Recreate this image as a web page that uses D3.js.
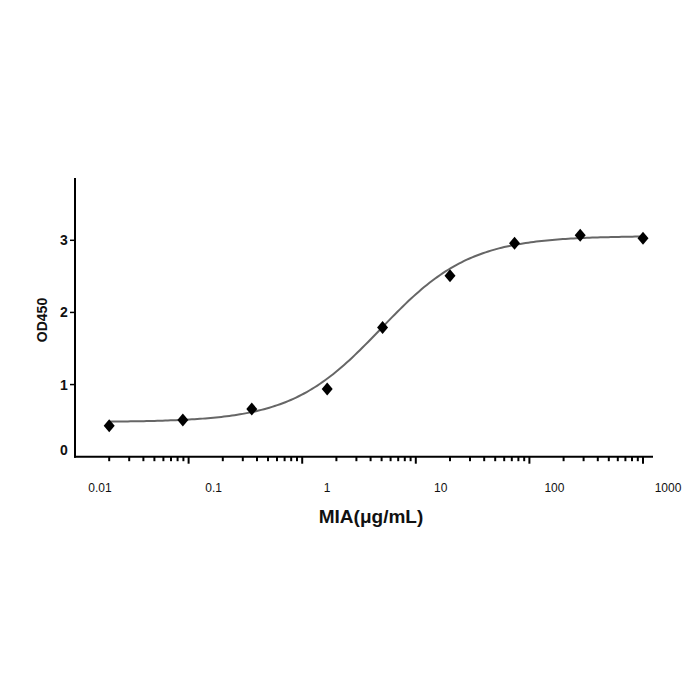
<!DOCTYPE html>
<html>
<head>
<meta charset="utf-8">
<script src="https://cdn.jsdelivr.net/npm/d3@7"></script>
<style>
    body { margin: 0; background: #fff; }
    svg text { font-family: "Liberation Sans", Arial, sans-serif; }
</style>
</head>
<body>
<svg id="chart" width="700" height="700"></svg>
<script>
// concentration (ug/mL) and OD450
var conc = [0.02, 0.089, 0.36, 1.66, 5.1, 20, 74, 280, 1000];
var od = [0.43, 0.51, 0.66, 0.94, 1.79, 2.51, 2.96, 3.07, 3.03];

// 4PL fit shown as the grey line
var fitBottom = 0.48;
var fitTop = 3.06;
var fitEC50 = 4.9;
var fitHill = 1.1;

var xTickLabels = ["0.01", "0.1", "1", "10", "100", "1000"];
var yTicks = [0, 1, 2, 3];

var svg = d3.select("#chart");

var x = d3.scaleLog().domain([0.01, 1000]).range([75, 643]);
var y = d3.scaleLinear().domain([0, 3]).range([456.7, 240.3]);
var yTop = 178;
var xEnd = 653;

// axes lines
svg.append("line")
    .attr("x1", 75).attr("y1", yTop).attr("x2", 75).attr("y2", y(0) + 1)
    .attr("stroke", "#000").attr("stroke-width", 2);
svg.append("line")
    .attr("x1", 74).attr("y1", y(0)).attr("x2", xEnd).attr("y2", y(0))
    .attr("stroke", "#000").attr("stroke-width", 2);

// y ticks
for (var i in yTicks) {
    var v = yTicks[i];
    if (v > 0) {
        svg.append("line")
            .attr("x1", 70).attr("x2", 75)
            .attr("y1", y(v)).attr("y2", y(v))
            .attr("stroke", "#000").attr("stroke-width", 1.5);
    }
    svg.append("text")
        .attr("x", 64).attr("y", v > 0 ? y(v) + 5 : y(v) - 2)
        .attr("text-anchor", "middle")
        .attr("font-size", 14).attr("font-weight", "bold")
        .attr("fill", "#111")
        .text(v);
}

// x ticks: minor 2..9 per decade, major at each decade
for (var d = -2; d < 3; d++) {
    for (var m = 2; m <= 10; m++) {
        var tv = m * Math.pow(10, d);
        var major = (m == 10);
        svg.append("line")
            .attr("x1", x(tv)).attr("x2", x(tv))
            .attr("y1", y(0)).attr("y2", y(0) + (major ? 7 : 4.5))
            .attr("stroke", "#000").attr("stroke-width", 2);
    }
}

// x tick labels (sit a bit right of their ticks, like the original)
for (var k in xTickLabels) {
    svg.append("text")
        .attr("x", x(+xTickLabels[k]) + 25).attr("y", 492)
        .attr("text-anchor", "middle")
        .attr("font-size", 12)
        .attr("fill", "#111")
        .text(xTickLabels[k]);
}

// fitted curve
var lx = d3.range(0, 201).map(function (i) {
    return Math.pow(10, Math.log10(conc[0]) + i / 200 * (Math.log10(conc[conc.length - 1]) - Math.log10(conc[0])));
});
var fit = function (c) {
    return fitBottom + (fitTop - fitBottom) / (1 + Math.pow(fitEC50 / c, fitHill));
};
svg.append("path")
    .datum(lx)
    .attr("d", d3.line().x(function (c) { return x(c); }).y(function (c) { return y(fit(c)); }))
    .attr("fill", "none")
    .attr("stroke", "#666")
    .attr("stroke-width", 2);

// points as diamonds
svg.selectAll("path.pt")
    .data(conc)
    .enter().append("path")
    .attr("class", "pt")
    .attr("d", function (c, i) {
        var px = x(c), py = y(od[i]);
        return "M" + px + "," + (py - 6.5) + "L" + (px + 5.5) + "," + py +
            "L" + px + "," + (py + 6.5) + "L" + (px - 5.5) + "," + py + "Z";
    })
    .attr("fill", "#000");

// axis titles
svg.append("text")
    .attr("transform", "translate(47,320) rotate(-90)")
    .attr("text-anchor", "middle")
    .attr("font-size", 14).attr("font-weight", "bold")
    .attr("fill", "#111")
    .text("OD450");

svg.append("text")
    .attr("x", 371).attr("y", 523)
    .attr("text-anchor", "middle")
    .attr("font-size", 19).attr("font-weight", "bold")
    .attr("fill", "#111")
    .text("MIA(μg/mL)");
</script>
</body>
</html>
